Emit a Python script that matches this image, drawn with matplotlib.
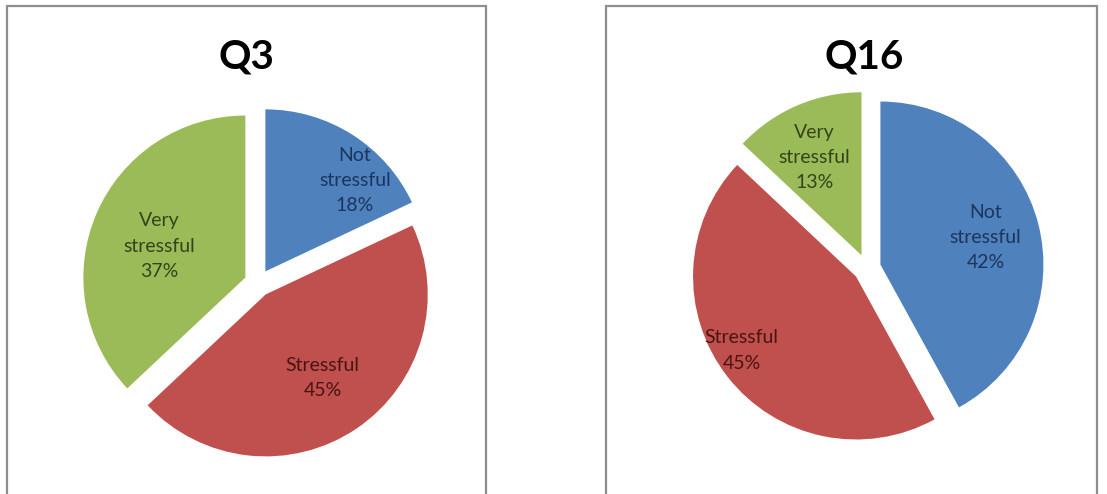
import numpy as np
import matplotlib
matplotlib.use("Agg")
from matplotlib import pyplot as plt
from matplotlib.patches import Rectangle

categories = ["Not\nstressful", "Stressful", "Very\nstressful"]
q3_values = [18, 45, 37]
q16_values = [42, 45, 13]
titles = ["Q3", "Q16"]

colors = ["#4F81BD", "#C0504D", "#9BBB59"]
text_colors = ["#1B3560", "#4A1412", "#34441A"]

W, H = 1107, 494
fig = plt.figure(figsize=(W / 100, H / 100), dpi=100)
fig.patch.set_facecolor("white")

# panel frames (pixel coords from top-left)
for x0, x1 in [(7, 486), (606, 1097)]:
    fig.add_artist(Rectangle((x0 / W, -0.05), (x1 - x0) / W, 1.05 - 6 / H,
                             transform=fig.transFigure, fill=False,
                             edgecolor="#8E8E8E", linewidth=1.6))

# pie centres / radius in pixels, label distance and angle shift per slice
panels = [
    dict(values=q3_values, title=titles[0], cx=258, cy=283, r=162, tx=246,
         dist=[0.87, 0.71, 0.65], shift=[-11, 0, 3]),
    dict(values=q16_values, title=titles[1], cx=867, cy=268, r=163, tx=864,
         dist=[0.75, 0.92, 0.75], shift=[0, -4.5, 2]),
]

lim = 1.25
for p in panels:
    size = 2 * lim * p["r"]
    ax = fig.add_axes([(p["cx"] - size / 2) / W, (H - p["cy"] - size / 2) / H,
                       size / W, size / H])
    wedges, _ = ax.pie(p["values"], colors=colors, startangle=90,
                       counterclock=False, explode=[0.085] * 3, radius=1,
                       wedgeprops=dict(linewidth=0))
    total = sum(p["values"])
    for i, w in enumerate(wedges):
        ang = np.deg2rad((w.theta1 + w.theta2) / 2 + p["shift"][i])
        d = p["dist"][i]
        pct = round(100 * p["values"][i] / total)
        ax.text(d * np.cos(ang), d * np.sin(ang), f"{categories[i]}\n{pct}%",
                ha="center", va="center", fontsize=14, family="Lato",
                color=text_colors[i], linespacing=1.6)
    ax.set_xlim(-lim, lim)
    ax.set_ylim(-lim, lim)
    ax.set_aspect("equal")
    ax.axis("off")
    fig.text(p["tx"] / W, 1 - 57 / H, p["title"], ha="center", va="center",
             fontsize=29, fontweight="bold", family="Lato")

plt.savefig("out.png", dpi=100)
